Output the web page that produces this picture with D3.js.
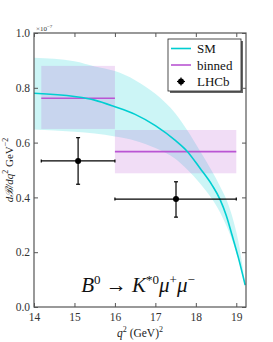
<!DOCTYPE html>
<html>
<head>
<meta charset="utf-8">
<script src="https://cdnjs.cloudflare.com/ajax/libs/d3/7.8.5/d3.min.js"></script>
<style>
  body { margin: 0; background: #fff; }
  text { font-family: 'Liberation Serif', 'DejaVu Serif', serif; }
</style>
</head>
<body>
<script>
// SM prediction (units of 1e-7)
var smQ     = [14, 15, 15.5, 16, 16.5, 17, 17.5, 17.8, 18.1, 18.4, 18.6, 18.75, 18.9, 19.05, 19.22];
var smMid   = [0.78, 0.768, 0.755, 0.731, 0.703, 0.662, 0.607, 0.566, 0.507, 0.445, 0.392, 0.335, 0.26, 0.181, 0.08];
var smUpper = [0.91, 0.897, 0.878, 0.861, 0.828, 0.778, 0.705, 0.642, 0.57, 0.495, 0.44, 0.394, 0.33, 0.24, 0.085];
var smLower = [0.648, 0.64, 0.633, 0.622, 0.607, 0.58, 0.54, 0.5, 0.452, 0.394, 0.345, 0.298, 0.243, 0.175, 0.072];

// binned prediction
var binLo   = [14.18, 16];
var binHi   = [16, 19];
var binVal  = [0.762, 0.567];
var binMin  = [0.65, 0.488];
var binMax  = [0.88, 0.646];

// LHCb measurement
var lhcbQ    = [15.09, 17.51];
var lhcbQLo  = [14.18, 16];
var lhcbQHi  = [16, 19];
var lhcbY    = [0.533, 0.394];
var lhcbYLo  = [0.448, 0.328];
var lhcbYHi  = [0.618, 0.457];

var xTicks = [14, 15, 16, 17, 18, 19];
var yTicks = [0, 0.2, 0.4, 0.6, 0.8, 1.0];

var width = 273, height = 342;
var mLeft = 34, mRight = 246, mTop = 33, mBottom = 307;

var svg = d3.select('body').append('svg').attr('width', width).attr('height', height);

var x = d3.scaleLinear().domain([14, 19.24]).range([mLeft, mRight]);
var y = d3.scaleLinear().domain([0, 1]).range([mBottom, mTop]);

var cyan = '#00CED1', purple = '#BA55D3';

// band
var band = d3.area()
    .x(function(d, i){ return x(smQ[i]); })
    .y0(function(d, i){ return y(smLower[i]); })
    .y1(function(d, i){ return y(smUpper[i]); })
    .curve(d3.curveMonotoneX);
svg.append('path').datum(smQ).attr('d', band).attr('fill', cyan).attr('fill-opacity', 0.2);

// binned boxes
svg.selectAll('rect.bin').data(binVal).enter().append('rect')
    .attr('x', function(d, i){ return x(binLo[i]); })
    .attr('width', function(d, i){ return x(binHi[i]) - x(binLo[i]); })
    .attr('y', function(d, i){ return y(binMax[i]); })
    .attr('height', function(d, i){ return y(binMin[i]) - y(binMax[i]); })
    .attr('fill', purple).attr('fill-opacity', 0.2);

svg.selectAll('line.bin').data(binVal).enter().append('line')
    .attr('x1', function(d, i){ return x(binLo[i]); })
    .attr('x2', function(d, i){ return x(binHi[i]); })
    .attr('y1', function(d){ return y(d); })
    .attr('y2', function(d){ return y(d); })
    .attr('stroke', purple).attr('stroke-width', 1.6);

// SM line
var line = d3.line()
    .x(function(d, i){ return x(smQ[i]); })
    .y(function(d){ return y(d); })
    .curve(d3.curveMonotoneX);
svg.append('path').datum(smMid).attr('d', line).attr('fill', 'none')
    .attr('stroke', cyan).attr('stroke-width', 1.6);

// LHCb points
var pts = svg.append('g');
lhcbY.forEach(function(v, i){
    var g = pts.append('g').attr('stroke', '#000').attr('stroke-width', 1.2);
    g.append('line').attr('x1', x(lhcbQLo[i])).attr('x2', x(lhcbQHi[i])).attr('y1', y(v)).attr('y2', y(v));
    g.append('line').attr('x1', x(lhcbQ[i])).attr('x2', x(lhcbQ[i])).attr('y1', y(lhcbYLo[i])).attr('y2', y(lhcbYHi[i]));
    [lhcbYLo[i], lhcbYHi[i]].forEach(function(c){
        g.append('line').attr('x1', x(lhcbQ[i]) - 2).attr('x2', x(lhcbQ[i]) + 2).attr('y1', y(c)).attr('y2', y(c));
    });
    [lhcbQLo[i], lhcbQHi[i]].forEach(function(c){
        g.append('line').attr('x1', x(c)).attr('x2', x(c)).attr('y1', y(v) - 1.5).attr('y2', y(v) + 1.5);
    });
    pts.append('circle').attr('cx', x(lhcbQ[i])).attr('cy', y(v)).attr('r', 3).attr('fill', '#000');
});

// frame and ticks
var axisColor = '#555';
svg.append('rect').attr('x', mLeft).attr('y', mTop).attr('width', mRight - mLeft).attr('height', mBottom - mTop)
    .attr('fill', 'none').attr('stroke', axisColor).attr('stroke-width', 1.2);

var xb = svg.append('g').attr('transform', 'translate(0,' + mBottom + ')')
    .call(d3.axisBottom(x).tickValues(xTicks).tickSize(-4).tickPadding(6).tickFormat(d3.format('d')));
var xt = svg.append('g').attr('transform', 'translate(0,' + mTop + ')')
    .call(d3.axisTop(x).tickValues(xTicks).tickSize(-4).tickFormat(''));
var yl = svg.append('g').attr('transform', 'translate(' + mLeft + ',0)')
    .call(d3.axisLeft(y).tickValues(yTicks).tickSize(-4).tickPadding(4).tickFormat(d3.format('.1f')));
var yr = svg.append('g').attr('transform', 'translate(' + mRight + ',0)')
    .call(d3.axisRight(y).tickValues(yTicks).tickSize(-4).tickFormat(''));
[xb, xt, yl, yr].forEach(function(a){
    a.select('.domain').remove();
    a.selectAll('line').attr('stroke', axisColor);
    a.selectAll('text').attr('fill', '#333').style('font-size', '11.5px')
        .style('font-family', "'Liberation Serif', serif");
});

// offset label
svg.append('text').attr('x', 36).attr('y', 31).attr('font-size', 7).attr('fill', '#333')
    .text('×10').append('tspan').attr('dy', -3).attr('font-size', 5).text('−7');

// axis labels
var xl = svg.append('text').attr('x', 140).attr('y', 337).attr('text-anchor', 'middle')
    .attr('font-size', 11.5).attr('fill', '#222');
xl.append('tspan').attr('font-style', 'italic').text('q');
xl.append('tspan').attr('dy', -5).attr('font-size', 8).text('2');
xl.append('tspan').attr('dy', 5).text(' (GeV)');
xl.append('tspan').attr('dy', -5).attr('font-size', 8).text('2');

var yLab = svg.append('text').attr('transform', 'translate(13,170) rotate(-90)')
    .attr('text-anchor', 'middle').attr('font-size', 11).attr('fill', '#222');
yLab.append('tspan').attr('font-style', 'italic').text('d');
yLab.append('tspan').attr('font-style', 'italic').style('font-family', "'DejaVu Serif', serif").text('ℬ');
yLab.append('tspan').attr('font-style', 'italic').text('/dq');
yLab.append('tspan').attr('dy', -5).attr('font-size', 8).text('2');
yLab.append('tspan').attr('dy', 5).text(' GeV');
yLab.append('tspan').attr('dy', -5).attr('font-size', 8).text('−2');

// process annotation
var ann = svg.append('text').attr('x', 138).attr('y', 292).attr('text-anchor', 'middle')
    .attr('font-size', 21).attr('font-style', 'italic').attr('fill', '#111');
ann.append('tspan').text('B');
ann.append('tspan').attr('dy', -8).attr('font-size', 13).attr('font-style', 'normal').text('0');
ann.append('tspan').attr('dy', 8).attr('font-style', 'normal').text(' → ');
ann.append('tspan').text('K');
ann.append('tspan').attr('dy', -8).attr('font-size', 13).attr('font-style', 'normal').text('*0');
ann.append('tspan').attr('dy', 8).text('μ');
ann.append('tspan').attr('dy', -8).attr('font-size', 13).attr('font-style', 'normal').text('+');
ann.append('tspan').attr('dy', 8).text('μ');
ann.append('tspan').attr('dy', -8).attr('font-size', 13).attr('font-style', 'normal').text('−');

// legend
var lg = svg.append('g').attr('transform', 'translate(168,39)');
lg.append('rect').attr('x', 2).attr('y', 2).attr('width', 73).attr('height', 52).attr('fill', '#666');
lg.append('rect').attr('width', 73).attr('height', 52).attr('fill', '#fff').attr('stroke', '#222').attr('stroke-width', 0.8);
var legNames = ['SM', 'binned', 'LHCb'];
var legColors = [cyan, purple, '#000'];
legNames.forEach(function(n, i){
    var yy = 9.5 + i * 16.5;
    if (i < 2) {
        lg.append('line').attr('x1', 3).attr('x2', 23).attr('y1', yy).attr('y2', yy)
            .attr('stroke', legColors[i]).attr('stroke-width', 1.6);
    } else {
        lg.append('line').attr('x1', 9).attr('x2', 17).attr('y1', yy).attr('y2', yy).attr('stroke', '#000').attr('stroke-width', 1.2);
        lg.append('line').attr('x1', 13).attr('x2', 13).attr('y1', yy - 4).attr('y2', yy + 4).attr('stroke', '#000').attr('stroke-width', 1.2);
        lg.append('circle').attr('cx', 13).attr('cy', yy).attr('r', 3).attr('fill', '#000');
    }
    lg.append('text').attr('x', 29).attr('y', yy + 4.5).attr('font-size', 13).attr('fill', '#111').text(n);
});
</script>
</body>
</html>
